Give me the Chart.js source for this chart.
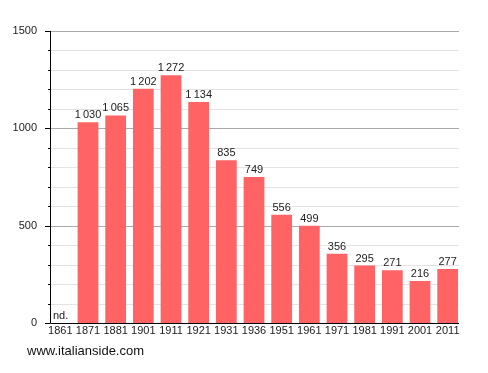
<!DOCTYPE html>
<html><head><meta charset="utf-8">
<script src="https://cdn.jsdelivr.net/npm/chart.js@4"></script>
<style>html,body{margin:0;padding:0;background:#fff}canvas{display:block}</style>
</head><body>
<canvas id="c" width="488" height="373"></canvas>
<script>
const years = ["1861","1871","1881","1901","1911","1921","1931","1936","1951","1961","1971","1981","1991","2001","2011"];
const population = [null,1030,1065,1202,1272,1134,835,749,556,499,356,295,271,216,277];
const yTickLabels = [0,500,1000,1500];
const FONT = '11px "Liberation Sans", Arial, sans-serif';

function fmt(v){ const s=String(v); return s.length>3 ? s.slice(0,s.length-3)+'\u2009'+s.slice(-3) : s; }

const AX_L = 50, AX_R = 458;

const decor = {
  id:'decor',
  beforeDatasetsDraw(chart){
    const ctx=chart.ctx, y=chart.scales.y;
    ctx.save();
    for(let v=100; v<=1500; v+=100){
      const py=Math.round(y.getPixelForValue(v))+0.5;
      ctx.strokeStyle = (v%500===0)?'#aaaaaa':'#e3e3e3';
      ctx.lineWidth=1;
      ctx.beginPath(); ctx.moveTo(AX_L,py); ctx.lineTo(AX_R+1,py); ctx.stroke();
      ctx.strokeStyle='#000';
      ctx.beginPath(); ctx.moveTo(AX_L-((v%500===0)?5:2),py); ctx.lineTo(AX_L,py); ctx.stroke();
    }
    ctx.restore();
  },
  afterDatasetsDraw(chart){
    const ctx=chart.ctx, x=chart.scales.x, y=chart.scales.y;
    const meta=chart.getDatasetMeta(0);
    ctx.save();
    // axes
    ctx.strokeStyle='#000'; ctx.lineWidth=1;
    const y0=Math.round(y.getPixelForValue(0))+0.5;
    const yt=Math.round(y.getPixelForValue(1500));
    ctx.beginPath(); ctx.moveTo(AX_L+0.5,yt); ctx.lineTo(AX_L+0.5,y0); ctx.lineTo(AX_R+1,y0); ctx.stroke();
    ctx.beginPath(); ctx.moveTo(AX_L-5,y0); ctx.lineTo(AX_L,y0); ctx.stroke();
    ctx.font=FONT; ctx.fillStyle='#222';
    // y labels
    ctx.textAlign='right'; ctx.textBaseline='middle';
    yTickLabels.forEach(v=>{ ctx.fillText(String(v), 37, y.getPixelForValue(v)); });
    // x labels
    ctx.textAlign='center'; ctx.textBaseline='middle';
    years.forEach((l,i)=>{ ctx.fillText(l, x.getPixelForValue(i), 331); });
    // value labels
    ctx.textBaseline='alphabetic';
    population.forEach((v,i)=>{
      const el=meta.data[i];
      if(v===null){ ctx.textAlign='left'; ctx.fillText('nd.', AX_L+3, y0-5); ctx.textAlign='center'; return; }
      ctx.fillText(fmt(v), el.x, el.y-4);
    });
    // watermark
    ctx.textAlign='left'; ctx.font='13px "Liberation Sans", Arial, sans-serif'; ctx.fillStyle='#111';
    ctx.fillText('www.italianside.com', 27, 355);
    ctx.restore();
  }
};

new Chart(document.getElementById('c'), {
  type:'bar',
  data:{ labels: years, datasets:[{ data: population, backgroundColor:'#ff6363', borderWidth:0, barPercentage:0.75, categoryPercentage:1 }]},
  options:{
    responsive:false, animation:false, devicePixelRatio:1,
    layout:{ padding:{ left:46.5, right:488-461.5, top:30.7, bottom:50 } },
    plugins:{ legend:{display:false}, tooltip:{enabled:false} },
    scales:{
      x:{ display:false, offset:true },
      y:{ display:false, min:0, max:1500 }
    }
  },
  plugins:[decor]
});
</script>
</body></html>
